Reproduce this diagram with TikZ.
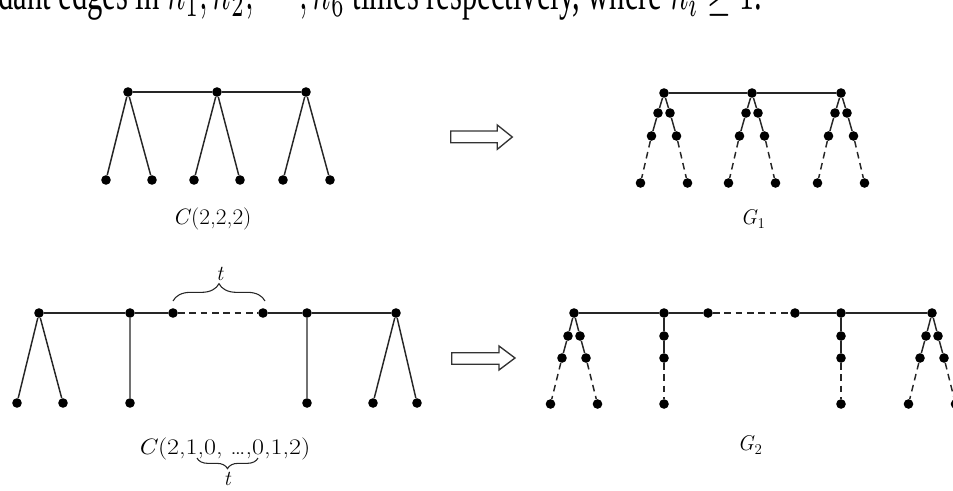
\documentclass[tikz,border=0pt]{standalone}
\usepackage{fontspec}
\usepackage{graphicx}
\usetikzlibrary{decorations.pathreplacing}
\newfontfamily\timesfont{Liberation Serif}
\begin{document}
\begin{tikzpicture}[x=0.75pt,y=-0.75pt,
  dot/.style={circle,fill=black,inner sep=0pt,minimum size=7.2pt},
  edge/.style={line width=1.1pt,draw=black!85},
  dedge/.style={edge,dash pattern=on 5pt off 3.5pt},
  bracestyle/.style={line width=0.8pt,draw=black!85,decorate},
  arrowbox/.style={line width=1pt,draw=black!80,fill=white,line join=miter},
  lbl/.style={inner sep=0pt,font=\fontsize{16.7}{20}\selectfont}]
\useasboundingbox (0,0) rectangle (953,490);

% header text (clipped by page)
\node[anchor=base west,inner sep=0pt] (hdr) at (-2,9.5)
  {\resizebox{573pt}{26pt}{\timesfont dant edges in $n_1, n_2, \cdots, n_6$ times respectively, where $n_i \geq 1$.}};

% ---------- C(2,2,2) ----------
\node[dot] (a1) at (128,92) {};
\node[dot] (a2) at (217,92) {};
\node[dot] (a3) at (306,92) {};
\node[dot] (a1l) at (106,180) {};
\node[dot] (a1r) at (152,180) {};
\node[dot] (a2l) at (194,180) {};
\node[dot] (a2r) at (240,180) {};
\node[dot] (a3l) at (283,180) {};
\node[dot] (a3r) at (330,180) {};
\draw[edge] (a1) -- (a2) -- (a3);
\draw[edge] (a1) -- (a1l) (a1) -- (a1r) (a2) -- (a2l) (a2) -- (a2r) (a3) -- (a3l) (a3) -- (a3r);
\node[lbl] (lc1) at (212,219) {\resizebox{59.25pt}{\height}{\textit{C}(2,2,2)}};

% ---------- G1 ----------
\foreach \i/\x in {1/664,2/752,3/841} {
  \node[dot] (b\i) at (\x,93) {};
  \node[dot] (b\i L2) at (\x-6,113) {};
  \node[dot] (b\i R2) at (\x+6,113) {};
  \node[dot] (b\i L3) at (\x-12.5,136) {};
  \node[dot] (b\i R3) at (\x+12.5,136) {};
  \node[dot] (b\i L4) at (\x-23.5,183) {};
  \node[dot] (b\i R4) at (\x+23.5,183) {};
  \draw[edge] (b\i) -- (b\i L2) -- (b\i L3);
  \draw[edge] (b\i) -- (b\i R2) -- (b\i R3);
  \draw[dedge] (b\i L3) -- (b\i L4);
  \draw[dedge] (b\i R3) -- (b\i R4);
}
\draw[edge] (b1) -- (b2) -- (b3);
\node[lbl,font=\fontsize{16}{19}\selectfont] (g1) at (753,219) {\textit{G}\textsubscript{1}};

% ---------- C(2,1,0,...,0,1,2) ----------
\node[dot] (c1) at (39,313) {};
\node[dot] (c2) at (130,313) {};
\node[dot] (c3) at (173,313) {};
\node[dot] (c4) at (263,313) {};
\node[dot] (c5) at (307,313) {};
\node[dot] (c6) at (396,313) {};
\node[dot] (c1l) at (17,403) {};
\node[dot] (c1r) at (63,403) {};
\node[dot] (c2d) at (130,403) {};
\node[dot] (c5d) at (307,403) {};
\node[dot] (c6l) at (373,403) {};
\node[dot] (c6r) at (417,403) {};
\draw[edge] (c1) -- (c2) -- (c3);
\draw[dedge] (c3) -- (c4);
\draw[edge] (c4) -- (c5) -- (c6);
\draw[edge] (c1) -- (c1l) (c1) -- (c1r) (c2) -- (c2d) (c5) -- (c5d) (c6) -- (c6l) (c6) -- (c6r);
\coordinate (tbl) at (173,301);
\coordinate (tbr) at (265,301);
\draw[bracestyle,decoration={brace,amplitude=13pt}] (tbl) -- (tbr);
\node[lbl,font=\fontsize{16}{19}\selectfont] (t1) at (220,274) {\textit{t}};
\node[lbl,anchor=west] (lc2) at (137,449)
  {\resizebox{129.75pt}{\height}{\textit{C}(2,1,0, \dots,0,1,2)}};
\coordinate (ubl) at (197,458);
\coordinate (ubr) at (258,458);
\draw[bracestyle,decoration={brace,amplitude=8pt,mirror}] (ubl) -- (ubr);
\node[lbl,font=\fontsize{16}{19}\selectfont] (t2) at (227.5,479) {\textit{t}};

% ---------- G2 ----------
\node[dot] (d1) at (574,313) {};
\node[dot] (d2) at (664,313) {};
\node[dot] (d3) at (708,313) {};
\node[dot] (d4) at (795,313) {};
\node[dot] (d5) at (841,313) {};
\node[dot] (d6) at (932,313) {};
\draw[edge] (d1) -- (d2) -- (d3);
\draw[dedge] (d3) -- (d4);
\draw[edge] (d4) -- (d5) -- (d6);
\foreach \i/\x in {1/574,6/932} {
  \node[dot] (d\i L2) at (\x-6,336) {};
  \node[dot] (d\i R2) at (\x+6,336) {};
  \node[dot] (d\i L3) at (\x-12,358) {};
  \node[dot] (d\i R3) at (\x+12,358) {};
  \node[dot] (d\i L4) at (\x-23.5,404) {};
  \node[dot] (d\i R4) at (\x+23.5,404) {};
  \draw[edge] (d\i) -- (d\i L2) -- (d\i L3);
  \draw[edge] (d\i) -- (d\i R2) -- (d\i R3);
  \draw[dedge] (d\i L3) -- (d\i L4);
  \draw[dedge] (d\i R3) -- (d\i R4);
}
\foreach \i/\x in {2/664,5/841} {
  \node[dot] (d\i M2) at (\x,336) {};
  \node[dot] (d\i M3) at (\x,358) {};
  \node[dot] (d\i M4) at (\x,404) {};
  \draw[edge] (d\i) -- (d\i M2) -- (d\i M3);
  \draw[dedge] (d\i M3) -- (d\i M4);
}
\node[lbl,font=\fontsize{16}{19}\selectfont] (g2) at (750,445) {\textit{G}\textsubscript{2}};

% ---------- arrows ----------
\draw[arrowbox] (450.7,131) -- (497.3,131) -- (497.3,125) -- (512.3,137)
  -- (497.3,149.3) -- (497.3,142.7) -- (450.7,142.7) -- cycle;
\draw[arrowbox] (451.7,352.7) -- (499,352.7) -- (499,346) -- (515,358)
  -- (499,370) -- (499,364.3) -- (451.7,364.3) -- cycle;
\end{tikzpicture}
\end{document}
